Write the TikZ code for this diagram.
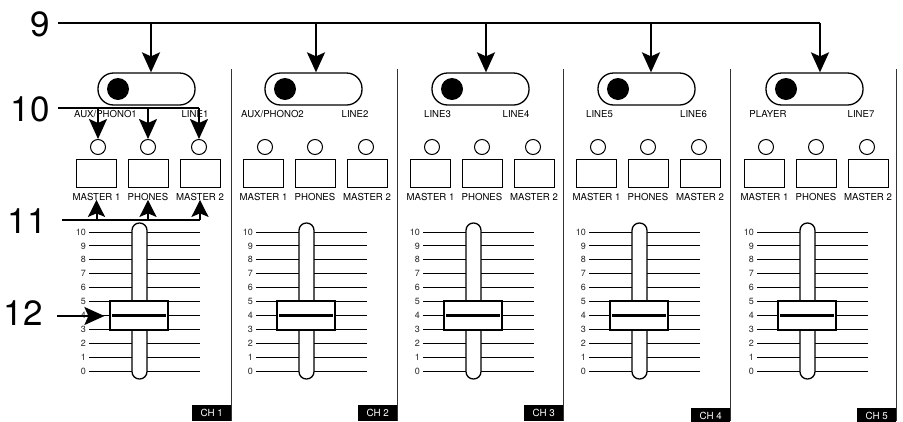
\documentclass[tikz,border=0pt]{standalone}
\usepackage{fontspec}
\setmainfont{TeX Gyre Heros}
\usetikzlibrary{arrows.meta}
\begin{document}
\begin{tikzpicture}[x=1pt,y=-1pt,
  arr/.style={line width=2pt,-{Stealth[length=20pt,width=18pt,inset=4pt]}},
  arrshort/.style={line width=2pt,-{Stealth[length=17pt,width=17pt,inset=3.5pt]}},
  lead/.style={line width=2pt},
  bignum/.style={font=\fontsize{35}{35}\selectfont, inner sep=0pt, anchor=east},
  swbox/.style={draw, line width=1.3pt, rounded corners=15.5pt, minimum width=97pt, minimum height=32pt, inner sep=0pt},
  swdot/.style={circle, fill=black, minimum size=22pt, inner sep=0pt},
  led/.style={circle, draw, line width=1pt, minimum size=15pt, inner sep=0pt},
  btn/.style={draw, line width=1pt, minimum width=40pt, minimum height=28pt, inner sep=0pt},
  lbl/.style={font=\fontsize{9.6}{10}\selectfont, inner sep=0pt},
  ticklbl/.style={font=\fontsize{9}{9}\selectfont, inner sep=0pt, anchor=east, text=black!85},
  slot/.style={draw, fill=white, line width=1.3pt, rounded corners=7.4pt, minimum width=15pt, minimum height=156pt, inner sep=0pt},
  knob/.style={draw, fill=white, line width=1.2pt, minimum width=58pt, minimum height=29pt, inner sep=0pt},
  sep/.style={line width=1pt, black!80},
  chlbl/.style={fill=black, text=white, font=\fontsize{9.8}{10}\selectfont, minimum width=39pt, minimum height=16pt, inner sep=0pt, anchor=north east},
]
\useasboundingbox (0,0) rectangle (903,421);
\clip (0,0) rectangle (903,421);

% channel separators and CH labels
\foreach \c/\sx/\cy in {1/231/405, 2/397/405, 3/563/405, 4/730/408, 5/896/408}{
  \draw[sep] (\sx,69) -- (\sx,421);
  \node[chlbl] (ch\c) at (\sx+0.5,\cy) {CH \c};
}

% channel contents
\foreach \c/\ox in {1/0, 2/167, 3/334, 4/500, 5/668}{
  \node[swbox] (sw\c) at (\ox+146.5,89) {};
  \node[swdot] (dot\c) at (\ox+118,89) {};
  \node[led] (led\c a) at (\ox+98,147) {};
  \node[led] (led\c b) at (\ox+148,147) {};
  \node[led] (led\c c) at (\ox+199,147) {};
  \node[btn] (btn\c a) at (\ox+96,173) {};
  \node[btn] (btn\c b) at (\ox+148,173) {};
  \node[btn] (btn\c c) at (\ox+200,173) {};
  \node[lbl] (bl\c a) at (\ox+96.5,197) {MASTER 1};
  \node[lbl] (bl\c b) at (\ox+148,197) {PHONES};
  \node[lbl] (bl\c c) at (\ox+200,197) {MASTER 2};
  \foreach \i in {0,...,10}{
    \draw[line width=0.9pt] (\ox+89,371-\i*13.9) -- (\ox+200,371-\i*13.9);
    \node[ticklbl] at (\ox+86,371-\i*13.9) {\i};
  }
  \draw[line width=1.8pt] (\ox+89,301.5) -- (\ox+200,301.5);
  \node[slot] (slot\c) at (\ox+139.5,301) {};
  \node[knob] (knob\c) at (\ox+139,315.5) {};
  \draw[line width=2.6pt] ([xshift=3pt]knob\c.west) -- ([xshift=-3pt]knob\c.east);
}

% switch labels
\node[lbl] (ll1) at (105.5,114) {AUX/PHONO1};
\node[lbl] (lr1) at (195,114) {LINE1};
\node[lbl] (ll2) at (272.5,114) {AUX/PHONO2};
\node[lbl] (lr2) at (355,114) {LINE2};
\node[lbl] (ll3) at (437.5,114) {LINE3};
\node[lbl] (lr3) at (516,114) {LINE4};
\node[lbl] (ll4) at (599.5,114) {LINE5};
\node[lbl] (lr4) at (693.5,114) {LINE6};
\node[lbl] (ll5) at (768,114) {PLAYER};
\node[lbl] (lr5) at (861,114) {LINE7};

% callout numbers
\node[bignum] (n9) at (50,24) {9};
\node[bignum] (n10) at (50,109.5) {10};
\node[bignum] (n11) at (47,221.5) {11};
\node[bignum] (n12) at (43,313.5) {12};

% callout 9
\coordinate (a9) at (58,23);
\coordinate (e9) at (820,23);
\draw[lead] (a9) -- (e9);
\foreach \c/\tx in {1/151, 2/316, 3/486, 4/651, 5/820}{
  \coordinate (t\c) at (\tx,23);
  \draw[arr] (t\c) -- (t\c |- sw\c.north);
}

% callout 10
\coordinate (a10) at (58,108);
\draw[lead] (a10) -- (a10 -| led1c.north);
\foreach \k in {a,b,c}{
  \draw[arr] (a10 -| led1\k.north) -- (led1\k.north);
}

% callout 11
\coordinate (a11) at (62,220);
\draw[lead] (a11) -- (a11 -| bl1c.south);
\foreach \k in {a,b,c}{
  \draw[arrshort] (a11 -| bl1\k.south) -- ([yshift=1pt]bl1\k.south);
}

% callout 12
\coordinate (a12) at (57,316);
\draw[arr] (a12) -- ([xshift=-5pt]knob1.west |- a12);
\end{tikzpicture}
\end{document}
